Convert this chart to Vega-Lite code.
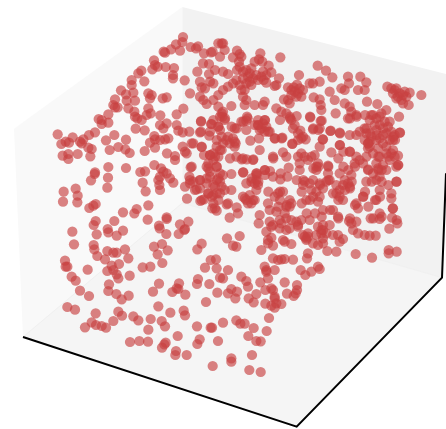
{"$schema":"https://vega.github.io/schema/vega-lite/v6.json","width":446,"height":429,"padding":0,"autosize":{"type":"none"},"background":"white","view":{"stroke":null},
"layer":[
{"data":{"values":[{"x":42,"y":387,"y2":387},{"x":69,"y":367,"y2":1011},{"x":547,"y":21,"y2":609}]},"mark":{"type":"area","orient":"vertical","color":"#f9f9f9"},"encoding":{"x":{"field":"x","type":"quantitative","scale":{"domain":[0,1338],"nice":false},"axis":null},"y":{"field":"y","type":"quantitative","scale":{"domain":[1287,0],"nice":false},"axis":null},"y2":{"field":"y2"}}},
{"data":{"values":[{"x":547,"y":21,"y2":609},{"x":1326,"y":219,"y2":833},{"x":1338,"y":222,"y2":520}]},"mark":{"type":"area","orient":"vertical","color":"#f2f2f2"},"encoding":{"x":{"field":"x","type":"quantitative","axis":null},"y":{"field":"y","type":"quantitative","axis":null},"y2":{"field":"y2"}}},
{"data":{"values":[{"x":69,"y":1011,"y2":1011},{"x":547,"y":609,"y2":1168},{"x":890,"y":708,"y2":1280},{"x":1326,"y":833,"y2":833}]},"mark":{"type":"area","orient":"vertical","color":"#f5f5f5"},"encoding":{"x":{"field":"x","type":"quantitative","axis":null},"y":{"field":"y","type":"quantitative","axis":null},"y2":{"field":"y2"}}},
{"data":{"values":[{"x":69,"y":1011},{"x":547,"y":609},{"x":1326,"y":833}]},"mark":{"type":"line","color":"#f0f0f0","strokeWidth":1},"encoding":{"x":{"field":"x","type":"quantitative","axis":null},"y":{"field":"y","type":"quantitative","axis":null}}},
{"data":{"values":[{"x":69,"y":1011},{"x":890,"y":1280},{"x":1326,"y":833},{"x":1338,"y":520}]},"mark":{"type":"line","color":"#000000","strokeWidth":2,"strokeJoin":"miter","clip":true},"encoding":{"x":{"field":"x","type":"quantitative","axis":null},"y":{"field":"y","type":"quantitative","axis":null}}},
{"data":{"values":[
{"x":173,"y":403},{"x":184,"y":432},{"x":197,"y":425},{"x":207,"y":428},{"x":218,"y":412},{"x":188,"y":467},{"x":205,"y":462},{"x":205,"y":477},{"x":233,"y":462},{"x":240,"y":425},{"x":250,"y":418},{"x":245,"y":430},{"x":267,"y":405},{"x":285,"y":397},{"x":265,"y":443},{"x":275,"y":447},{"x":271,"y":469},{"x":318,"y":421},{"x":343,"y":405},{"x":329,"y":450},{"x":355,"y":441},{"x":378,"y":419},{"x":376,"y":448},{"x":389,"y":459},{"x":434,"y":453},{"x":407,"y":386},{"x":434,"y":391},{"x":296,"y":357},{"x":305,"y":360},{"x":325,"y":343},{"x":325,"y":368},{"x":305,"y":372},{"x":340,"y":315},{"x":345,"y":298},{"x":345,"y":322},{"x":353,"y":322},{"x":363,"y":271},{"x":380,"y":302},{"x":378,"y":283},{"x":395,"y":240},{"x":395,"y":255},{"x":400,"y":278},{"x":405,"y":302},{"x":385,"y":325},{"x":403,"y":335},{"x":405,"y":350},{"x":412,"y":355},{"x":425,"y":360},{"x":440,"y":345},{"x":452,"y":340},{"x":445,"y":325},{"x":455,"y":285},{"x":450,"y":295},{"x":445,"y":280},{"x":488,"y":295},{"x":500,"y":292},{"x":433,"y":244},{"x":415,"y":220},{"x":424,"y":212},{"x":462,"y":181},{"x":457,"y":208},{"x":465,"y":195},{"x":473,"y":200},{"x":497,"y":201},{"x":522,"y":204},{"x":519,"y":225},{"x":519,"y":235},{"x":554,"y":241},{"x":491,"y":155},{"x":495,"y":158},{"x":513,"y":148},{"x":528,"y":133},{"x":540,"y":152},{"x":547,"y":126},{"x":549,"y":111},{"x":572,"y":141},{"x":588,"y":145},{"x":594,"y":139},{"x":612,"y":160},{"x":633,"y":157},{"x":638,"y":155},{"x":609,"y":190},{"x":627,"y":192},{"x":592,"y":215},{"x":627,"y":222},{"x":645,"y":210},{"x":660,"y":170},{"x":655,"y":130},{"x":665,"y":130},{"x":600,"y":245},{"x":605,"y":262},{"x":630,"y":245},{"x":640,"y":250},{"x":615,"y":265},{"x":570,"y":280},{"x":600,"y":290},{"x":610,"y":300},{"x":620,"y":312},{"x":640,"y":300},{"x":655,"y":320},{"x":655,"y":285},{"x":550,"y":326},{"x":530,"y":343},{"x":481,"y":346},{"x":480,"y":375},{"x":500,"y":370},{"x":490,"y":385},{"x":505,"y":415},{"x":495,"y":418},{"x":480,"y":420},{"x":463,"y":408},{"x":465,"y":418},{"x":450,"y":428},{"x":465,"y":443},{"x":530,"y":375},{"x":535,"y":392},{"x":548,"y":397},{"x":568,"y":395},{"x":603,"y":365},{"x":603,"y":395},{"x":600,"y":397},{"x":633,"y":372},{"x":628,"y":407},{"x":655,"y":380},{"x":548,"y":440},{"x":575,"y":430},{"x":605,"y":441},{"x":555,"y":455},{"x":560,"y":460},{"x":501,"y":460},{"x":525,"y":468},{"x":525,"y":480},{"x":612,"y":465},{"x":630,"y":465},{"x":640,"y":460},{"x":625,"y":490},{"x":625,"y":505},{"x":650,"y":420},{"x":660,"y":350},{"x":665,"y":410},{"x":655,"y":470},{"x":572,"y":502},{"x":463,"y":495},{"x":483,"y":505},{"x":490,"y":515},{"x":480,"y":530},{"x":475,"y":540},{"x":500,"y":520},{"x":510,"y":535},{"x":520,"y":548},{"x":480,"y":570},{"x":478,"y":555},{"x":437,"y":574},{"x":428,"y":548},{"x":421,"y":516},{"x":435,"y":514},{"x":378,"y":504},{"x":325,"y":501},{"x":285,"y":517},{"x":284,"y":522},{"x":273,"y":541},{"x":324,"y":533},{"x":322,"y":563},{"x":191,"y":575},{"x":227,"y":566},{"x":233,"y":587},{"x":189,"y":605},{"x":232,"y":607},{"x":268,"y":624},{"x":280,"y":617},{"x":287,"y":612},{"x":369,"y":637},{"x":403,"y":640},{"x":410,"y":627},{"x":445,"y":616},{"x":500,"y":652},{"x":561,"y":596},{"x":601,"y":603},{"x":612,"y":598},{"x":625,"y":580},{"x":640,"y":585},{"x":660,"y":580},{"x":637,"y":625},{"x":650,"y":632},{"x":665,"y":560},{"x":650,"y":540},{"x":630,"y":530},{"x":600,"y":540},{"x":590,"y":568},{"x":600,"y":565},{"x":570,"y":540},{"x":570,"y":550},{"x":555,"y":560},{"x":585,"y":570},{"x":568,"y":530},
{"x":640,"y":480},{"x":650,"y":500},{"x":660,"y":520},{"x":630,"y":515},{"x":645,"y":560},{"x":620,"y":550},{"x":655,"y":600},{"x":640,"y":610},{"x":660,"y":450},{"x":650,"y":440},{"x":660,"y":390},{"x":640,"y":360},{"x":665,"y":340},
{"x":841,"y":172},{"x":781,"y":160},{"x":711,"y":152},{"x":719,"y":162},{"x":724,"y":170},{"x":699,"y":172},{"x":717,"y":185},{"x":719,"y":200},{"x":711,"y":210},{"x":777,"y":178},{"x":764,"y":185},{"x":787,"y":185},{"x":806,"y":197},{"x":814,"y":217},{"x":837,"y":235},{"x":829,"y":255},{"x":824,"y":258},{"x":799,"y":248},{"x":791,"y":240},{"x":784,"y":230},{"x":769,"y":225},{"x":749,"y":220},{"x":744,"y":230},{"x":739,"y":250},{"x":749,"y":245},{"x":719,"y":255},{"x":724,"y":270},{"x":684,"y":222},{"x":669,"y":215},{"x":674,"y":150},{"x":669,"y":130},{"x":684,"y":260},{"x":669,"y":270},{"x":729,"y":290},{"x":739,"y":300},{"x":734,"y":315},{"x":764,"y":315},{"x":789,"y":315},{"x":794,"y":305},{"x":694,"y":318},{"x":669,"y":335},{"x":674,"y":360},{"x":741,"y":350},{"x":739,"y":362},{"x":724,"y":365},{"x":704,"y":385},{"x":739,"y":390},{"x":774,"y":375},{"x":794,"y":360},{"x":799,"y":380},{"x":784,"y":385},{"x":809,"y":395},{"x":829,"y":325},{"x":844,"y":335},{"x":869,"y":350},{"x":874,"y":360},{"x":884,"y":375},{"x":901,"y":392},{"x":909,"y":410},{"x":917,"y":418},{"x":852,"y":298},{"x":864,"y":300},{"x":869,"y":310},{"x":864,"y":262},{"x":881,"y":262},{"x":894,"y":280},{"x":904,"y":290},{"x":909,"y":270},{"x":897,"y":225},{"x":891,"y":254},{"x":929,"y":250},{"x":939,"y":250},{"x":959,"y":245},{"x":953,"y":197},{"x":978,"y":212},{"x":997,"y":232},{"x":989,"y":275},{"x":941,"y":292},{"x":959,"y":298},{"x":962,"y":315},{"x":964,"y":330},{"x":1007,"y":340},{"x":931,"y":352},{"x":965,"y":362},{"x":939,"y":388},{"x":959,"y":385},{"x":969,"y":418},{"x":991,"y":393},{"x":1019,"y":398},{"x":1004,"y":300},{"x":1024,"y":265},{"x":1034,"y":270},{"x":1044,"y":230},{"x":1047,"y":250},{"x":1081,"y":230},{"x":1099,"y":247},{"x":1074,"y":270},{"x":1094,"y":270},{"x":1034,"y":310},{"x":1049,"y":320},{"x":1054,"y":335},{"x":1044,"y":355},{"x":1069,"y":345},{"x":1101,"y":305},{"x":1132,"y":312},{"x":1162,"y":260},{"x":1184,"y":270},{"x":1194,"y":290},{"x":1214,"y":275},{"x":1229,"y":278},{"x":1264,"y":285},{"x":1204,"y":300},{"x":1209,"y":310},{"x":1226,"y":315},{"x":1159,"y":330},{"x":1139,"y":350},{"x":1114,"y":345},{"x":1197,"y":350},{"x":1169,"y":365},{"x":1199,"y":398},{"x":1094,"y":385},{"x":1069,"y":405},{"x":1049,"y":405},{"x":1104,"y":430},{"x":1129,"y":390},{"x":1149,"y":385},{"x":1159,"y":400},{"x":1139,"y":415},{"x":1179,"y":420},{"x":1159,"y":440},{"x":1194,"y":467},{"x":1194,"y":495},{"x":1159,"y":510},{"x":1169,"y":480},{"x":1129,"y":490},{"x":1104,"y":510},{"x":1079,"y":480},{"x":1049,"y":455},{"x":1019,"y":435},{"x":994,"y":457},{"x":959,"y":440},{"x":934,"y":470},{"x":904,"y":460},{"x":819,"y":470},{"x":849,"y":457},{"x":859,"y":470},{"x":779,"y":450},{"x":751,"y":422},{"x":777,"y":415},{"x":824,"y":415},{"x":847,"y":413},{"x":877,"y":431},{"x":707,"y":430},{"x":704,"y":425},{"x":679,"y":420},{"x":669,"y":430},{"x":709,"y":470},{"x":729,"y":475},{"x":759,"y":480},{"x":694,"y":522},{"x":729,"y":517},{"x":669,"y":525},{"x":769,"y":520},{"x":794,"y":510},{"x":819,"y":530},{"x":841,"y":538},{"x":866,"y":503},{"x":899,"y":510},{"x":949,"y":510},{"x":984,"y":497},{"x":984,"y":520},{"x":1019,"y":520},{"x":1054,"y":525},{"x":1099,"y":545},{"x":1129,"y":540},{"x":1189,"y":545},{"x":1139,"y":570},{"x":1174,"y":580},{"x":1174,"y":595},{"x":1129,"y":600},{"x":1179,"y":625},{"x":1089,"y":590},{"x":1069,"y":610},{"x":1029,"y":600},{"x":1009,"y":580},{"x":959,"y":590},{"x":919,"y":600},{"x":909,"y":555},{"x":939,"y":540},{"x":979,"y":545},{"x":934,"y":570},{"x":769,"y":540},{"x":774,"y":555},{"x":739,"y":550},{"x":694,"y":570},{"x":674,"y":570},{"x":749,"y":585},{"x":764,"y":600},{"x":804,"y":610},{"x":834,"y":580},{"x":869,"y":600},{"x":869,"y":620},{"x":809,"y":630},{"x":779,"y":645},{"x":714,"y":640},{"x":684,"y":610},{"x":744,"y":610},{"x":999,"y":630},{"x":969,"y":630},{"x":1074,"y":625},{"x":1139,"y":640},
{"x":1119,"y":345},{"x":1129,"y":355},{"x":1144,"y":340},{"x":1154,"y":365},{"x":1164,"y":380},{"x":1139,"y":375},{"x":1124,"y":375},{"x":1109,"y":360},{"x":1174,"y":395},{"x":1149,"y":405},{"x":1129,"y":420},{"x":1114,"y":410},{"x":1099,"y":400},{"x":1104,"y":445},{"x":1119,"y":460},{"x":1139,"y":470},{"x":1159,"y":460},{"x":1179,"y":450},{"x":1184,"y":405},{"x":1169,"y":420},{"x":1149,"y":430},{"x":1134,"y":445},{"x":1109,"y":425},{"x":1094,"y":420},{"x":1079,"y":395},
{"x":1174,"y":265},{"x":1189,"y":265},{"x":1199,"y":280},{"x":1209,"y":285},{"x":1179,"y":280},{"x":1219,"y":290},{"x":1189,"y":295},
{"x":729,"y":215},{"x":739,"y":210},{"x":754,"y":205},{"x":759,"y":235},{"x":774,"y":240},{"x":789,"y":215},{"x":799,"y":225},{"x":729,"y":235},{"x":709,"y":240},{"x":699,"y":250},{"x":734,"y":270},{"x":754,"y":255},
{"x":874,"y":270},{"x":884,"y":275},{"x":899,"y":265},{"x":889,"y":290},{"x":874,"y":285},
{"x":859,"y":340},{"x":879,"y":385},{"x":894,"y":400},{"x":904,"y":415},{"x":894,"y":420},
{"x":914,"y":470},{"x":924,"y":480},{"x":944,"y":465},{"x":954,"y":490},{"x":949,"y":500},{"x":899,"y":490},{"x":894,"y":470},
{"x":1009,"y":555},{"x":1019,"y":570},{"x":1029,"y":555},{"x":1044,"y":550},{"x":999,"y":580},{"x":1019,"y":590},{"x":1049,"y":560},{"x":1034,"y":540},{"x":914,"y":545},{"x":929,"y":550},{"x":959,"y":550},{"x":949,"y":575},{"x":969,"y":565},{"x":989,"y":540},{"x":939,"y":590},{"x":954,"y":605},
{"x":1069,"y":470},{"x":1064,"y":490},{"x":1089,"y":490},{"x":1099,"y":470},{"x":1149,"y":495},{"x":1134,"y":505},{"x":1174,"y":460},{"x":1184,"y":470},{"x":1189,"y":500},{"x":1119,"y":520},{"x":1139,"y":530},{"x":1109,"y":440},
{"x":764,"y":375},{"x":779,"y":390},{"x":789,"y":370},{"x":794,"y":395},{"x":774,"y":360},
{"x":754,"y":545},{"x":764,"y":550},{"x":769,"y":570},{"x":759,"y":600},{"x":754,"y":610},{"x":729,"y":590},{"x":739,"y":600},
{"x":849,"y":575},{"x":824,"y":590},{"x":859,"y":620},{"x":874,"y":610},{"x":829,"y":635},{"x":854,"y":640},
{"x":689,"y":430},{"x":699,"y":415},{"x":704,"y":440},{"x":684,"y":410},
{"x":603,"y":363},{"x":667,"y":350},{"x":675,"y":355},{"x":743,"y":355},{"x":630,"y":395},{"x":635,"y":372},{"x":655,"y":380},{"x":710,"y":385},{"x":695,"y":380},{"x":730,"y":365},{"x":775,"y":375},{"x":795,"y":360},{"x":805,"y":395},{"x":840,"y":360},{"x":870,"y":355},{"x":890,"y":348},{"x":825,"y":415},{"x":845,"y":415},{"x":877,"y":432},{"x":580,"y":430},{"x":605,"y":440},{"x":630,"y":465},{"x":645,"y":470},{"x":650,"y":500},{"x":620,"y":500},{"x":575,"y":500},{"x":665,"y":450},{"x":690,"y":475},{"x":725,"y":478},{"x":740,"y":478},{"x":760,"y":478},{"x":820,"y":475},{"x":795,"y":525},{"x":770,"y":525},{"x":795,"y":510},{"x":730,"y":517},{"x":770,"y":520},{"x":810,"y":513},{"x":842,"y":520},{"x":862,"y":530},{"x":890,"y":540},{"x":600,"y":540},{"x":580,"y":545},{"x":620,"y":535},{"x":655,"y":535},{"x":660,"y":545},{"x":640,"y":555},{"x":755,"y":535},{"x":775,"y":545},{"x":805,"y":575},{"x":840,"y":575},{"x":905,"y":575},{"x":840,"y":600},{"x":625,"y":580},{"x":635,"y":590},{"x":650,"y":580},{"x":605,"y":600},{"x":645,"y":625},{"x":680,"y":613},{"x":710,"y":622},{"x":735,"y":595},{"x":835,"y":620},{"x":860,"y":615},{"x":905,"y":610},{"x":930,"y":600},
{"x":930,"y":350},{"x":962,"y":363},{"x":940,"y":385},{"x":955,"y":390},{"x":968,"y":418},{"x":992,"y":392},{"x":1020,"y":400},{"x":1050,"y":355},{"x":1070,"y":350},{"x":1095,"y":345},{"x":1100,"y":385},{"x":1130,"y":405},{"x":1110,"y":400},{"x":1180,"y":410},{"x":1200,"y":398},{"x":1185,"y":420},{"x":1105,"y":430},{"x":1020,"y":435},{"x":1050,"y":455},{"x":1030,"y":455},{"x":1015,"y":475},{"x":985,"y":500},{"x":955,"y":500},{"x":940,"y":505},{"x":1030,"y":500},{"x":1045,"y":510},{"x":1065,"y":500},{"x":1105,"y":508},{"x":1135,"y":470},{"x":1165,"y":470},{"x":1195,"y":495},{"x":1135,"y":510},{"x":1145,"y":510},{"x":1190,"y":545},{"x":1115,"y":545},{"x":1145,"y":545},{"x":1165,"y":555},{"x":1095,"y":575},{"x":1055,"y":545},{"x":1035,"y":570},{"x":985,"y":540},{"x":910,"y":540},{"x":960,"y":555},{"x":1015,"y":600},{"x":1050,"y":565},{"x":1090,"y":590},{"x":1140,"y":590},{"x":1105,"y":620},{"x":1125,"y":600},{"x":1065,"y":615},{"x":1178,"y":625},{"x":990,"y":630},{"x":945,"y":640},{"x":920,"y":640},{"x":965,"y":650},{"x":1015,"y":655},{"x":1050,"y":655},{"x":1120,"y":655},{"x":1145,"y":650},{"x":1190,"y":660},
{"x":217,"y":695},{"x":222,"y":733},{"x":287,"y":663},{"x":281,"y":675},{"x":290,"y":703},{"x":343,"y":663},{"x":323,"y":687},{"x":325,"y":697},{"x":350,"y":707},{"x":369,"y":692},{"x":281,"y":735},{"x":283,"y":748},{"x":292,"y":768},{"x":322,"y":753},{"x":340,"y":758},{"x":350,"y":758},{"x":375,"y":748},{"x":385,"y":775},{"x":315,"y":778},{"x":195,"y":782},{"x":197,"y":800},{"x":202,"y":800},{"x":263,"y":809},{"x":215,"y":830},{"x":227,"y":842},{"x":335,"y":797},{"x":357,"y":792},{"x":322,"y":813},{"x":340,"y":810},{"x":350,"y":823},{"x":355,"y":835},{"x":389,"y":827},{"x":428,"y":802},{"x":451,"y":800},{"x":240,"y":872},{"x":267,"y":888},{"x":327,"y":853},{"x":325,"y":873},{"x":349,"y":882},{"x":365,"y":898},{"x":386,"y":887},{"x":202,"y":921},{"x":225,"y":929},{"x":287,"y":940},{"x":355,"y":935},{"x":366,"y":947},{"x":400,"y":949},{"x":415,"y":961},{"x":340,"y":963},{"x":275,"y":967},{"x":255,"y":982},{"x":288,"y":975},{"x":305,"y":978},{"x":318,"y":983},{"x":452,"y":957},{"x":485,"y":963},{"x":495,"y":979},{"x":445,"y":989},{"x":475,"y":919},{"x":511,"y":938},{"x":551,"y":932},{"x":555,"y":946},{"x":459,"y":875},{"x":477,"y":851},{"x":517,"y":876},{"x":530,"y":865},{"x":537,"y":850},{"x":535,"y":867},{"x":556,"y":884},{"x":591,"y":852},{"x":594,"y":837},{"x":628,"y":852},{"x":618,"y":906},{"x":652,"y":878},{"x":660,"y":833},{"x":615,"y":803},{"x":632,"y":780},{"x":648,"y":778},{"x":650,"y":805},{"x":592,"y":748},{"x":605,"y":731},{"x":462,"y":740},{"x":486,"y":732},{"x":503,"y":751},{"x":473,"y":763},{"x":487,"y":789},{"x":443,"y":659},{"x":500,"y":657},{"x":477,"y":677},{"x":479,"y":685},{"x":499,"y":702},{"x":536,"y":702},{"x":540,"y":673},{"x":555,"y":687},{"x":565,"y":665},{"x":553,"y":690},{"x":591,"y":979},{"x":632,"y":983},{"x":636,"y":983},{"x":669,"y":968},{"x":533,"y":1008},{"x":390,"y":1026},{"x":418,"y":1023},{"x":444,"y":1025},{"x":497,"y":1028},{"x":493,"y":1033},{"x":486,"y":1043},{"x":592,"y":1032},{"x":599,"y":1018},{"x":654,"y":1023},{"x":528,"y":1053},{"x":526,"y":1065},{"x":560,"y":1065},{"x":638,"y":1098},
{"x":776,"y":670},{"x":689,"y":653},{"x":719,"y":708},{"x":681,"y":715},{"x":699,"y":737},{"x":709,"y":740},{"x":784,"y":750},{"x":804,"y":730},{"x":819,"y":737},{"x":814,"y":713},{"x":799,"y":695},{"x":814,"y":680},{"x":809,"y":665},{"x":839,"y":685},{"x":859,"y":690},{"x":849,"y":720},{"x":854,"y":725},{"x":874,"y":732},{"x":819,"y":775},{"x":834,"y":780},{"x":844,"y":778},{"x":854,"y":777},{"x":879,"y":779},{"x":794,"y":800},{"x":799,"y":815},{"x":804,"y":835},{"x":824,"y":810},{"x":799,"y":810},{"x":684,"y":810},{"x":669,"y":835},{"x":724,"y":830},{"x":739,"y":843},{"x":744,"y":860},{"x":781,"y":847},{"x":796,"y":870},{"x":814,"y":865},{"x":819,"y":870},{"x":854,"y":847},{"x":891,"y":855},{"x":891,"y":870},{"x":861,"y":881},{"x":881,"y":888},{"x":887,"y":880},{"x":769,"y":882},{"x":746,"y":895},{"x":761,"y":907},{"x":706,"y":895},{"x":711,"y":875},{"x":694,"y":867},{"x":684,"y":880},{"x":796,"y":911},{"x":814,"y":917},{"x":824,"y":923},{"x":829,"y":910},{"x":844,"y":912},{"x":824,"y":890},{"x":824,"y":895},{"x":924,"y":760},{"x":921,"y":775},{"x":902,"y":810},{"x":916,"y":825},{"x":934,"y":815},{"x":954,"y":800},{"x":959,"y":807},{"x":1067,"y":762},{"x":1116,"y":773},{"x":1166,"y":750},{"x":1166,"y":760},{"x":1190,"y":755},{"x":1168,"y":686},{"x":1192,"y":670},{"x":1176,"y":653},{"x":1139,"y":657},{"x":1112,"y":655},{"x":1127,"y":707},{"x":1109,"y":707},{"x":1094,"y":705},{"x":1074,"y":700},{"x":1059,"y":690},{"x":1054,"y":670},{"x":1069,"y":665},{"x":1047,"y":663},{"x":1029,"y":717},{"x":1014,"y":705},{"x":1019,"y":725},{"x":1009,"y":755},{"x":982,"y":753},{"x":954,"y":735},{"x":939,"y":730},{"x":919,"y":720},{"x":909,"y":705},{"x":894,"y":680},{"x":904,"y":660},{"x":874,"y":660},{"x":859,"y":655},{"x":839,"y":660},{"x":929,"y":660},{"x":969,"y":675},{"x":964,"y":690},{"x":969,"y":715},{"x":979,"y":700},{"x":989,"y":675},{"x":1014,"y":650},{"x":969,"y":730},{"x":924,"y":700},{"x":919,"y":715},{"x":949,"y":705},{"x":807,"y":954},{"x":761,"y":984},{"x":800,"y":993},{"x":709,"y":961},{"x":721,"y":971},{"x":734,"y":971},{"x":745,"y":1008},{"x":769,"y":1023},{"x":782,"y":1024},{"x":756,"y":1065},{"x":694,"y":1075},{"x":694,"y":1085},{"x":748,"y":1110},{"x":782,"y":1116},
{"x":954,"y":680},{"x":964,"y":700},{"x":969,"y":690},{"x":924,"y":710},{"x":914,"y":710},{"x":894,"y":675},{"x":844,"y":670},{"x":889,"y":665},{"x":869,"y":685},{"x":819,"y":675},{"x":804,"y":720},{"x":999,"y":705}
]},"mark":{"type":"circle","size":105,"color":"#c84040","opacity":0.65},"encoding":{"x":{"field":"x","type":"quantitative","axis":null},"y":{"field":"y","type":"quantitative","axis":null}}}
]}
